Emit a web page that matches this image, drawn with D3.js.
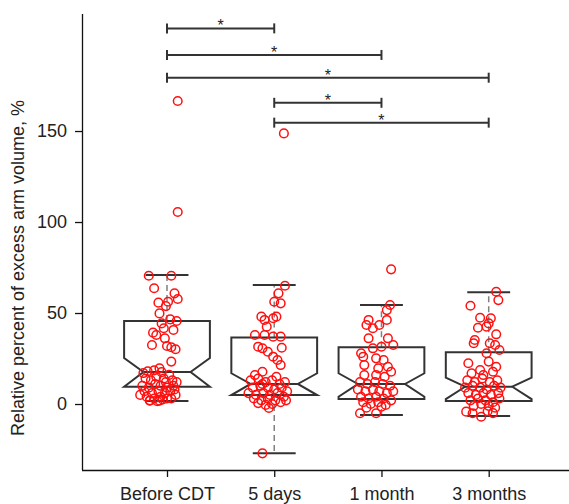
<!DOCTYPE html>
<html>
<head>
<meta charset="utf-8">
<script src="https://cdn.jsdelivr.net/npm/d3@7"></script>
<style>
  body { margin: 0; background: #fff; }
  text { font-family: "Liberation Sans", Arial, sans-serif; fill: #222; }
</style>
</head>
<body>
<svg width="569" height="504"></svg>
<script>
"use strict";

var groups = ["Before CDT", "5 days", "1 month", "3 months"];
var yTicks = [0, 50, 100, 150];

// box stats
var q1 = [9.5, 4.9, 2.7, 1.6];
var median = [17.6, 11.0, 11.0, 9.5];
var q3 = [45.6, 36.6, 31.2, 28.4];
var notchHi = [25.3, 16.9, 16.9, 14.5];
var notchLo = [9.5, 4.9, 4.0, 2.7];
var whiskerLo = [1.6, -27.1, -6.0, -6.6];
var whiskerHi = [70.9, 65.4, 54.4, 61.4];

// points: [jitter, value]
var ptsBefore = [[-0.17,70.5],[0.04,70.5],[-0.12,63.6],[0.07,60.8],[0.10,57.7],[-0.08,55.7],[0.01,56.2],[-0.01,53.8],
  [-0.07,49.8],[0.03,46.5],[0.09,45.6],[-0.05,44.3],[-0.03,41.6],[0.06,40.7],[-0.13,39.2],[-0.10,37.9],[-0.02,36.1],
  [-0.14,32.4],[0.00,31.9],[0.04,31.2],[0.08,30.1],[0.04,23.3],[-0.07,19.6],
  [-0.22,17],[-0.18,18],[-0.12,18.5],[-0.05,17.5],[0.02,16],[-0.20,14],[-0.15,13],[-0.10,15],[-0.03,14],[0.05,13],
  [0.09,12],[-0.23,10],[-0.17,9],[-0.11,11],[-0.06,10],[0.0,9],[0.06,10],[-0.21,7],[-0.14,6],[-0.08,7],[-0.02,6],
  [0.03,7],[0.08,5],[-0.19,4],[-0.12,3],[-0.06,4],[0.0,3],[-0.16,2],[-0.09,1.5],[-0.04,2.5],[0.04,3],[-0.25,5],
  [0.07,8],[-0.01,12],[-0.16,1.8],[-0.07,1.8],[0.10,166.5],[0.10,105.5]];
var pts5days = [[0.10,65.0],[0.04,60.8],[0.00,56.2],[0.06,55.3],[-0.12,48.0],[-0.09,46.2],[-0.01,47.1],[0.02,48],
  [-0.07,42.5],[-0.18,37.9],[-0.09,37.9],[-0.01,37.0],[0.06,37],[-0.15,31.5],[-0.11,30.6],[0.07,30.9],[-0.06,28.7],
  [-0.01,26.0],[0.03,24.2],[0.06,21.4],[-0.11,17.7],[-0.18,15.9],
  [-0.22,13],[-0.15,14],[-0.08,12],[-0.02,13],[0.05,11],[0.10,12],[-0.20,9],[-0.13,10],[-0.06,9],[0.0,8],[0.07,9],
  [0.12,7],[-0.24,6],[-0.17,5],[-0.10,6],[-0.04,5],[0.03,6],[0.09,4],[-0.19,3],[-0.12,2],[-0.06,3],[0.01,2],[0.06,1],
  [-0.15,0.5],[-0.08,-0.5],[-0.02,0],[-0.05,-2.2],[0.11,2],[-0.11,11],[0.02,15],[-0.11,-27.1],[0.09,148.7]];
var pts1month = [[0.08,54.4],[0.05,51.6],[-0.12,46.2],[-0.14,43.4],[-0.08,41.6],[-0.02,43.4],[0.05,46.2],[-0.12,36.1],
  [0.06,36.1],[0.11,32.4],[-0.08,30.6],[0.0,31.5],[-0.19,27.9],[-0.17,26],[-0.05,25.1],[0.02,24.2],[-0.16,21.4],
  [0.06,20.5],[-0.03,19.6],[0.09,17.7],[-0.16,15.9],[-0.05,15.9],[0.03,15],
  [-0.20,12],[-0.13,11],[-0.06,12],[0.01,11],[0.08,10],[-0.22,8],[-0.15,7],[-0.08,8],[-0.02,7],[0.05,6],[0.11,7],
  [-0.19,4],[-0.12,3],[-0.05,4],[0.02,3],[0.09,2],[-0.17,1],[-0.10,0],[-0.03,1],[0.04,-0.5],[-0.14,-2],[0.0,-1.5],
  [-0.20,-5.1],[-0.05,-5.1],[0.09,74.0]];
var pts3months = [[0.07,61.7],[0.09,57.1],[-0.17,54],[-0.08,47.4],[0.02,47.1],[0,44.3],[-0.10,41.9],[-0.02,42.5],
  [0.07,38.3],[-0.13,35.2],[-0.14,33.4],[0.01,33.4],[0.06,32.4],[0.10,29.7],[-0.02,27.9],[-0.19,22.4],[0,23.3],
  [0.07,20.5],[-0.08,18.7],[-0.16,16.9],[0.04,17.7],[-0.05,15.9],
  [-0.20,13],[-0.13,12],[-0.06,14],[0.01,12],[0.08,13],[-0.22,9],[-0.15,10],[-0.08,9],[-0.02,8],[0.05,10],[0.11,9],
  [-0.19,6],[-0.12,5],[-0.05,6],[0.02,5],[0.09,6],[-0.17,2],[-0.10,3],[-0.03,2],[0.04,1],[0.10,3],[-0.14,-1],
  [-0.07,0],[0.0,-1],[0.06,-2],[-0.21,-4.2],[-0.15,-5.1],[-0.07,-7],[-0.01,-4],[0.04,-5]];
var points = [ptsBefore, pts5days, pts1month, pts3months];

// significance brackets
var sigFrom = [0, 0, 0, 1, 1];
var sigTo = [1, 2, 3, 2, 3];
var sigLevel = [206.4, 191.8, 179.3, 165.5, 154.6];
var sigLabel = ["*", "*", "*", "*", "*"];

var svg = d3.select("svg"),
  margin = {top: 14, bottom: 34, left: 82, right: 0},
  width = svg.attr("width") - margin.left - margin.right,
  height = svg.attr("height") - margin.top - margin.bottom,
  g = svg.append("g").attr("transform", "translate(" + margin.left + "," + margin.top + ")");

var x = d3.scaleLinear().domain([0, 3]).range([85, 406.7]);
var y = d3.scaleLinear().domain([-36.26, 214.3]).range([height, 0]);
var step = x(1) - x(0);

// axes
var xAxis = g.append("g")
  .attr("transform", "translate(0," + height + ")")
  .call(d3.axisBottom(x).tickValues([0, 1, 2, 3]).tickSize(7).tickPadding(10)
    .tickFormat(function(d) { return groups[d]; }));
xAxis.select(".domain").attr("d", "M0,0.5H" + width).attr("stroke", "#111").attr("stroke-width", 1.3);
xAxis.selectAll(".tick line").attr("stroke", "#111").attr("stroke-width", 1.3);
xAxis.selectAll("text").style("font-size", "18px").attr("fill", "#222");

var yAxis = g.append("g")
  .call(d3.axisLeft(y).tickValues(yTicks).tickSize(7).tickPadding(8));
yAxis.select(".domain").attr("d", "M0.5,0V" + height).attr("stroke", "#111").attr("stroke-width", 1.3);
yAxis.selectAll(".tick line").attr("stroke", "#111").attr("stroke-width", 1.3);
yAxis.selectAll("text").style("font-size", "18px").attr("fill", "#222");

svg.append("text")
  .attr("transform", "translate(24,268) rotate(-90)")
  .attr("text-anchor", "middle")
  .style("font-size", "18px")
  .text("Relative percent of excess arm volume, %");

// boxes
var boxW = 0.8 * step, inset = 0.18 * step, capW = 0.2 * step;

groups.forEach(function(name, i) {
  var cx = x(i), l = cx - boxW / 2, r = cx + boxW / 2;

  // dashed whiskers
  g.append("line").attr("x1", cx).attr("x2", cx)
    .attr("y1", y(q3[i])).attr("y2", y(whiskerHi[i]))
    .attr("stroke", "#808080").attr("stroke-width", 1.5).attr("stroke-dasharray", "6,4");
  g.append("line").attr("x1", cx).attr("x2", cx)
    .attr("y1", y(q1[i])).attr("y2", y(whiskerLo[i]))
    .attr("stroke", "#808080").attr("stroke-width", 1.5).attr("stroke-dasharray", "6,4");

  // caps
  [whiskerHi[i], whiskerLo[i]].forEach(function(v) {
    g.append("line").attr("x1", cx - capW).attr("x2", cx + capW)
      .attr("y1", y(v)).attr("y2", y(v))
      .attr("stroke", "#333").attr("stroke-width", 2);
  });

  var path = d3.path();
  path.moveTo(l, y(q3[i]));
  path.lineTo(r, y(q3[i]));
  path.lineTo(r, y(notchHi[i]));
  path.lineTo(r - inset, y(median[i]));
  path.lineTo(r, y(notchLo[i]));
  path.lineTo(r, y(q1[i]));
  path.lineTo(l, y(q1[i]));
  path.lineTo(l, y(notchLo[i]));
  path.lineTo(l + inset, y(median[i]));
  path.lineTo(l, y(notchHi[i]));
  path.closePath();
  g.append("path").attr("d", path.toString())
    .attr("fill", "none").attr("stroke", "#333").attr("stroke-width", 2)
    .attr("stroke-linejoin", "miter");

  g.append("line").attr("x1", l + inset).attr("x2", r - inset)
    .attr("y1", y(median[i])).attr("y2", y(median[i]))
    .attr("stroke", "#333").attr("stroke-width", 2);
});

// jittered points
points.forEach(function(list, i) {
  g.selectAll(".pt" + i)
    .data(list)
    .enter().append("circle")
      .attr("class", "pt" + i)
      .attr("cx", function(d) { return x(i + d[0]); })
      .attr("cy", function(d) { return y(d[1]); })
      .attr("r", 4.3)
      .attr("fill", "none")
      .attr("stroke", "#ff1010")
      .attr("stroke-width", 1.5);
});

// significance brackets
sigLevel.forEach(function(v, k) {
  var x1 = x(sigFrom[k]), x2 = x(sigTo[k]), yy = y(v);
  g.append("line").attr("x1", x1).attr("x2", x2).attr("y1", yy).attr("y2", yy)
    .attr("stroke", "#333").attr("stroke-width", 2);
  [x1, x2].forEach(function(xx) {
    g.append("line").attr("x1", xx).attr("x2", xx).attr("y1", yy - 5).attr("y2", yy + 5)
      .attr("stroke", "#333").attr("stroke-width", 2);
  });
  g.append("text")
    .attr("x", (x1 + x2) / 2)
    .attr("y", yy + 3)
    .attr("text-anchor", "middle")
    .style("font-size", "16px")
    .text(sigLabel[k]);
});
</script>
</body>
</html>
